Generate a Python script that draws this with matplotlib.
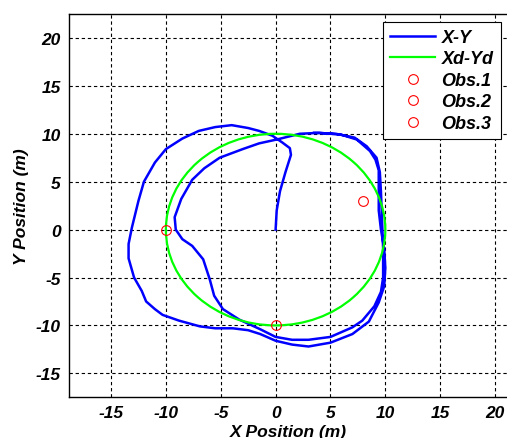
import matplotlib
matplotlib.use("Agg")
import matplotlib.pyplot as plt
from matplotlib.patches import Circle
from matplotlib.lines import Line2D

# Actual robot trajectory (X-Y)
traj_x = [0.0, 0.1, 0.4, 0.9, 1.4, 1.3, 0.6, -0.3, -1.5, -2.5, -4.0, -5.5, -7.0, -8.5,
          -10.0, -11.0, -11.5, -12.0, -12.5, -13.1, -13.4, -13.4, -12.9, -12.2, -11.8,
          -11.0, -10.3, -8.8, -6.9, -5.5, -3.9, -2.5, -1.4, 0.0, 1.5, 3.0, 5.0, 7.0,
          8.5, 9.4, 9.9, 10.0, 9.9, 9.6, 9.4, 9.4, 9.4, 9.1, 8.6, 7.4, 6.0, 4.0, 2.2,
          0.8, 0.1, -1.5, -3.0, -5.1, -6.5, -7.6, -8.6, -9.2, -9.1, -8.5, -7.6, -6.6,
          -6.0, -5.6, -4.8, -3.3, -1.4, 0.0, 1.5, 3.0, 5.0, 7.0, 7.9, 9.0, 9.6, 9.8,
          9.8, 9.7, 9.6, 9.5, 9.2, 8.3, 7.2, 5.5, 3.5]
traj_y = [0.0, 2.0, 4.0, 6.0, 7.8, 8.5, 9.1, 9.8, 10.3, 10.6, 10.9, 10.7, 10.3, 9.5,
          8.4, 7.0, 6.0, 5.0, 3.0, 0.2, -1.5, -3.0, -5.0, -6.4, -7.5,
          -8.3, -8.9, -9.5, -10.1, -10.3, -10.3, -10.5, -10.9, -11.6, -12.0, -12.2, -11.8, -10.9,
          -9.6, -7.6, -5.9, -4.0, -2.0, 0.0, 2.0, 4.0, 6.2, 7.3, 8.2, 9.4, 9.9, 10.1, 10.0,
          9.6, 9.4, 9.0, 8.4, 7.5, 6.4, 5.2, 3.2, 1.3, 0.0, -1.0, -1.7, -3.1,
          -5.2, -6.9, -8.3, -9.4, -10.4, -11.2, -11.5, -11.5, -11.2, -10.2, -9.5, -8.0, -6.5, -5.0,
          -2.0, 1.0, 4.0, 6.0, 7.5, 8.7, 9.6, 10.0, 10.1]

# Desired trajectory (Xd-Yd): circle
desired_center = (0.0, 0.0)
desired_radius = 10.0

# Obstacles
obs_labels = ["Obs.1", "Obs.2", "Obs.3"]
obs_x = [-10.0, 0.0, 8.0]
obs_y = [0.0, -10.0, 3.0]

xticks = [-15, -10, -5, 0, 5, 10, 15, 20]
yticks = [-15, -10, -5, 0, 5, 10, 15, 20]

FONT = dict(family="Liberation Sans", weight="bold", style="italic", size=12.5)

fig = plt.figure(figsize=(5.07, 4.39), dpi=100)
ax = fig.add_axes([69 / 507, 1 - 398 / 439, 438 / 507, (398 - 15) / 439])

ax.plot(traj_x, traj_y, color="#0000ff", lw=1.8, label="X-Y", zorder=3)
ax.add_patch(Circle(desired_center, desired_radius, fill=False, ec="#00ff00", lw=1.6, zorder=4))
for lab, ox, oy in zip(obs_labels, obs_x, obs_y):
    ax.plot([ox], [oy], "o", mfc="none", mec="red", ms=7, mew=0.8, label=lab, zorder=5)

ax.set_xlim(-18.83, 21.09)
ax.set_ylim(-17.47, 22.5)
ax.set_xticks(xticks)
ax.set_yticks(yticks)
ax.set_xticklabels([str(t) for t in xticks], fontdict=FONT)
ax.set_yticklabels([str(t) for t in yticks], fontdict=FONT)
ax.tick_params(direction="in", length=0, pad=6)
ax.grid(True, color="black", linestyle=(0, (3, 2.5)), linewidth=0.8)
ax.spines["right"].set_visible(False)
for s in ["left", "top", "bottom"]:
    ax.spines[s].set_linewidth(1.0)

ax.set_xlabel("X Position (m)", fontdict=FONT, labelpad=3)
ax.set_ylabel("Y Position (m)", fontdict=FONT, labelpad=5)

handles = [Line2D([], [], color="#0000ff", lw=1.8),
           Line2D([], [], color="#00ff00", lw=1.6)]
handles += [Line2D([], [], ls="none", marker="o", mfc="none", mec="red", ms=7, mew=0.8)
            for _ in obs_labels]
labels = ["X-Y", "Xd-Yd"] + obs_labels
leg = ax.legend(handles, labels, loc="upper right", bbox_to_anchor=(500.7 / 507, 1 - 22.7 / 439),
                bbox_transform=fig.transFigure, prop=dict(family="Liberation Sans", weight="bold",
                                                          style="italic", size=13),
                frameon=True, fancybox=False, edgecolor="black", framealpha=1,
                handlelength=2.5, handletextpad=0.35, labelspacing=0.25, borderpad=0.4,
                borderaxespad=0, numpoints=1)
leg.get_frame().set_linewidth(0.8)

fig.savefig("out.png", dpi=100)
